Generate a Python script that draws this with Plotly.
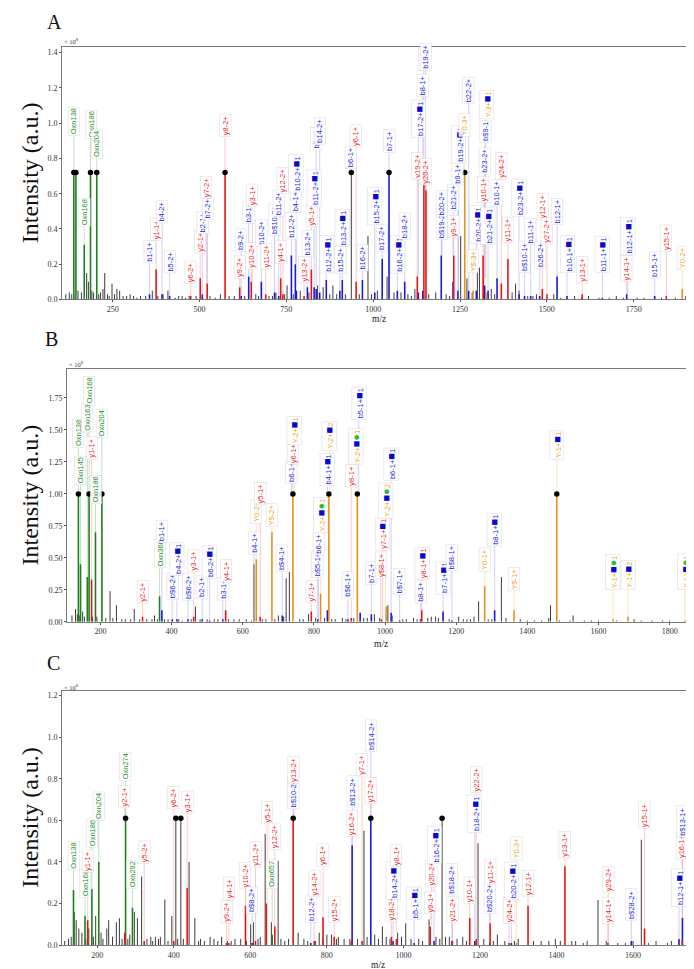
import plotly.graph_objects as go

# ======================= Panel A =======================
A_oxn_mz = [138.05, 144.07, 168.07, 186.08, 204.09]
A_oxn_int = [0.72, 0.72, 0.31, 0.72, 0.72]

A_b_mz = [356, 392, 414, 508, 620, 641.6, 678, 716, 728, 764.5,
          776, 779, 810.5, 830, 836, 846, 865, 904, 911, 969,
          1004.5, 1026, 1045.6, 1069.6, 1090.8, 1130, 1143, 1196, 1230, 1244,
          1275, 1297, 1321, 1330.8, 1356.7, 1420, 1436, 1453.6, 1479.5, 1529.5,
          1558, 1659.8, 1730, 1810.6]
A_b_int = [0.03, 0.03, 0.02, 0.03, 0.02, 0.13, 0.10, 0.04, 0.02, 0.25,
           0.20, 0.05, 0.07, 0.07, 0.06, 0.04, 0.11, 0.05, 0.11, 0.11,
           0.04, 0.23, 0.72, 0.05, 0.10, 0.04, 0.05, 0.25, 0.10, 0.05,
           0.05, 0.05, 0.08, 0.05, 0.12, 0.03, 0.02, 0.02, 0.02, 0.13,
           0.02, 0.01, 0.03, 0.02]

A_y_mz = [375, 474.6, 502, 522, 573.5, 615.7, 649, 690.5, 733.7, 740,
          801, 822, 951, 1127, 1146, 1152, 1232, 1316.5, 1369, 1388,
          1487, 1500.6, 1602, 1844]
A_y_int = [0.17, 0.02, 0.12, 0.09, 0.72, 0.07, 0.10, 0.03, 0.12, 0.03,
           0.02, 0.17, 0.10, 0.13, 0.72, 0.62, 0.25, 0.25, 0.09, 0.23,
           0.06, 0.03, 0.03, 0.02]

A_Y_mz = [1263.6, 1287.5, 1325, 1890]
A_Y_int = [0.72, 0.05, 0.04, 0.06]

A_k_mz = [150, 160, 175, 180, 222, 227, 248, 262, 270, 300,
          330, 364, 395, 409, 450, 470, 530, 560, 600, 662,
          700, 720, 752, 790, 840, 856, 875, 884, 920, 937,
          985, 1012, 1040, 1060, 1100, 1120, 1180, 1210, 1252, 1270,
          1300, 1306, 1318, 1340, 1410, 1420, 1470, 1520, 1580, 1620,
          1700, 1780, 1900]
A_k_int = [0.05, 0.04, 0.15, 0.10, 0.06, 0.15, 0.09, 0.06, 0.05, 0.03,
           0.02, 0.05, 0.03, 0.05, 0.02, 0.02, 0.02, 0.03, 0.02, 0.03,
           0.02, 0.04, 0.08, 0.05, 0.08, 0.07, 0.03, 0.08, 0.03, 0.72,
           0.36, 0.05, 0.13, 0.04, 0.03, 0.06, 0.04, 0.03, 0.36, 0.12,
           0.18, 0.18, 0.12, 0.06, 0.09, 0.05, 0.03, 0.03, 0.02, 0.02,
           0.02, 0.01, 0.02]
A_noise_mz = [115, 125, 132, 190, 195, 210, 215, 235, 240, 255,
              280, 290, 310, 320, 345, 380, 430, 440, 460, 490,
              545, 585, 630, 670, 710, 745, 770, 815, 895, 960,
              995, 1080, 1110, 1160, 1220, 1285, 1350, 1400, 1445, 1460,
              1540, 1600, 1650, 1680, 1720, 1760, 1830, 1870]
A_noise_int = [0.03, 0.04, 0.03, 0.05, 0.04, 0.03, 0.04, 0.03, 0.02, 0.03,
               0.02, 0.02, 0.02, 0.01, 0.02, 0.02, 0.01, 0.02, 0.01, 0.02,
               0.01, 0.02, 0.02, 0.02, 0.02, 0.03, 0.03, 0.04, 0.03, 0.03,
               0.03, 0.04, 0.02, 0.03, 0.02, 0.04, 0.03, 0.04, 0.02, 0.02,
               0.01, 0.01, 0.01, 0.01, 0.01, 0.01, 0.01, 0.01]

A_lab_txt = [
    'Oxn138', 'Oxn168', 'Oxn186', 'Oxn204', 'b1-1+', 'y1-1+', 'b4-2+', 'b5-2+', 'y6-2+', 'y2-1+',
    'b2-1+', 'b7-2+', 'y7-2+', 'y8-2+', 'y9-2+', 'b9-2+', 'b3-1+', 'y10-2+', 'y3-1+', 'b10-2+',
    'y11-2+', 'b$10-2+', 'b11-2+', 'y4-1+', 'y12-2+', 'b12-2+', 'b4-1+', 'b10-2+[S]1', 'y13-2+', 'b13-2+',
    'y5-1+', 'b11-2+[S]1', 'b5-1+', 'b14-2+', 'b12-2+[S]1', 'b15-2+', 'b13-2+[S]1', 'b6-1+', 'y6-1+', 'b16-2+',
    'b15-2+[S]1', 'b17-2+', 'b7-1+', 'b16-2+[S]1', 'b18-2+', 'y19-2+', 'b17-2+[S]1', 'b8-1+', 'y8-1+', 'b19-2+',
    'y20-2+', 'b$19-2+', 'b20-2+', 'b21-2+', 'y9-1+', 'b9-1+', 'b19-2+[S]1', 'Y0-3+', 'b22-2+', 'Y$-3+',
    'b20-2+[S]1', 'y10-1+', 'b23-2+', 'b$9-1', 'Y-3+[S]1', 'b21-2+[S]1', 'b10-1+', 'y24-2+', 'y11-1+', 'b23-2+[S]1',
    'b$10-1+', 'b11-1+', 'b26-2+', 'y12-1+', 'y27-2+', 'b12-1+', 'b10-1+[S]1', 'y13-1+', 'b11-1+[S]1', 'y14-1+',
    'b12-1+[S]1', 'b15-1+', 'y15-1+', 'Y0-2+']
A_lab_mz = [
    138.05, 168.07, 186.08, 204.09, 356, 375, 392, 414, 474.6, 502,
    508, 523, 520, 573.5, 615.7, 620, 641.6, 649, 652, 678,
    690.5, 716, 728, 733.7, 740, 764.5, 776, 779, 801, 810.5,
    822, 830, 836, 846, 865, 904, 911, 937, 951, 969,
    1004.5, 1026, 1045.6, 1069.6, 1090.8, 1127, 1130, 1143, 1146, 1151,
    1152, 1196, 1198, 1230, 1232, 1244, 1246, 1263.6, 1275, 1287.5,
    1297, 1316.5, 1321, 1322, 1325, 1330.8, 1356.7, 1369, 1388, 1420,
    1436, 1453.6, 1479.5, 1487, 1500.6, 1529.5, 1558, 1602, 1659.8, 1730,
    1733, 1810.6, 1844, 1890]
A_lab_at = [
    0.93, 0.41, 0.91, 0.80, 0.205, 0.33, 0.43, 0.15, 0.09, 0.26,
    0.37, 0.45, 0.57, 0.92, 0.12, 0.27, 0.43, 0.17, 0.525, 0.30,
    0.17, 0.36, 0.47, 0.205, 0.60, 0.34, 0.49, 0.61, 0.09, 0.24,
    0.41, 0.525, 0.845, 0.88, 0.15, 0.15, 0.30, 0.74, 0.86, 0.16,
    0.42, 0.27, 0.83, 0.15, 0.34, 0.68, 0.92, 1.15, 1.30, 1.30,
    0.65, 0.34, 0.47, 0.50, 0.35, 0.65, 0.77, 0.92, 1.11, 0.15,
    0.32, 0.545, 0.71, 0.89, 1.02, 0.31, 0.525, 0.68, 0.32, 0.47,
    0.15, 0.31, 0.177, 0.45, 0.31, 0.42, 0.15, 0.09, 0.15, 0.10,
    0.25, 0.12, 0.27, 0.17]
A_cap = 0.72
A_xticks = [250, 500, 750, 1000, 1250, 1500, 1750]
A_yticks = [0.0, 0.2, 0.4, 0.6, 0.8, 1.0, 1.2, 1.4]

# ======================= Panel B =======================
B_oxn_mz = [138.05, 144.07, 163.06, 168.07, 186.08, 204.09, 366.14]
B_oxn_int = [1.0, 0.45, 0.35, 1.0, 0.70, 1.0, 0.20]

B_b_mz = [372.7, 401.7, 415, 446, 486, 507, 544, 711, 811, 838,
          896, 930, 961.5, 1017, 1041, 1100, 1163, 1188, 1308]
B_b_int = [0.09, 0.02, 0.02, 0.02, 0.02, 0.01, 0.02, 0.05, 0.02, 0.09,
           0.02, 0.07, 0.06, 0.07, 0.01, 0.02, 0.08, 0.01, 0.09]

B_y_mz = [175.12, 318.4, 462, 552, 649, 792.7, 905, 990, 1103]
B_y_int = [0.33, 0.04, 0.04, 0.09, 0.04, 0.08, 0.03, 0.02, 0.09]

B_Y_mz = [638, 682, 741, 818.8, 842, 922, 1003, 1280, 1362.6, 1482.7, 1641, 1683, 1842.6]
B_Y_int = [0.49, 0.70, 1.0, 0.22, 1.0, 1.0, 0.12, 0.28, 0.09, 1.0, 0.02, 0.04, 0.01]

B_k_mz = [130, 150, 155, 227, 245, 260, 295, 352, 380, 420,
          467, 500, 520, 560, 610, 631.5, 655, 700, 715, 722,
          731, 770, 785, 805, 850, 880, 912, 950, 970, 1008,
          1020, 1060, 1080, 1120, 1130, 1142, 1207, 1230, 1250, 1263,
          1290, 1327, 1380, 1420, 1460, 1465, 1528.5, 1560, 1600, 1700,
          1750, 1800]
B_k_int = [0.10, 0.08, 0.04, 0.24, 0.13, 0.02, 0.10, 0.05, 0.02, 0.02,
           0.12, 0.02, 0.02, 0.02, 0.02, 0.45, 0.02, 0.05, 0.04, 0.34,
           0.39, 0.02, 0.06, 0.03, 0.02, 0.03, 0.03, 0.03, 0.06, 0.13,
           0.05, 0.02, 0.03, 0.03, 0.04, 0.04, 0.04, 0.02, 0.04, 0.16,
           0.02, 0.35, 0.02, 0.01, 0.03, 0.13, 0.05, 0.01, 0.01, 0.02,
           0.01, 0.01]
B_noise_mz = [120, 135, 142, 178, 190, 215, 235, 270, 285, 310,
              330, 345, 360, 390, 430, 455, 480, 530, 575, 590,
              625, 665, 690, 760, 830, 860, 890, 940, 985, 1050,
              1090, 1150, 1180, 1220, 1240, 1300, 1340, 1400, 1440, 1490,
              1520, 1580, 1650, 1720, 1780, 1850]
B_noise_int = [0.05, 0.06, 0.05, 0.04, 0.04, 0.03, 0.03, 0.02, 0.02, 0.02,
               0.02, 0.02, 0.02, 0.02, 0.01, 0.02, 0.02, 0.02, 0.02, 0.02,
               0.01, 0.02, 0.02, 0.02, 0.03, 0.02, 0.02, 0.03, 0.03, 0.02,
               0.02, 0.03, 0.02, 0.02, 0.02, 0.02, 0.03, 0.01, 0.01, 0.01,
               0.01, 0.01, 0.01, 0.01, 0.01, 0.01]

B_lab_txt = [
    'Oxn138', 'Oxn145', 'Oxn163', 'Oxn168', 'y1-1+', 'Oxn186', 'Oxn204', 'y2-1+', 'Oxn366', 'b1-1+',
    'b$6-2+', 'b4-2+[S]1', 'b$6-2+', 'y3-1+', 'b2-1+', 'b6-2+[S]1', 'b3-1+', 'y4-1+', 'b4-1+', 'Y0-2+',
    'y5-1+', 'Y$-2+', 'b$4-1+', 'b6-1+', 'y6-1+', 'Y-2+[S]1', 'y7-1+', 'b$5-1+', 'b6-1+', 'Y-2+[S][C]1',
    'b4-1+[S]1', 'Y-2+[S]2', 'b$6-1+', 'y8-1+', 'Y-2+[S][C]1', 'b5-1+[S]1', 'b7-1+', 'y$8-1+', 'y7-1+[S]1', 'Y-2+[S][C]2',
    'b6-1+[S]1', 'b$7-1+', 'b8-1+', 'y8-1+[S]1', 'b7-1+[S]1', 'b$8-1+', 'Y0-1+', 'b8-1+[S]1', 'Y$-1+', 'Y-1+[S]1',
    'Y-1+[S][C]1', 'Y-1+[S]2', 'Y-1+[S][C]1']
B_lab_mz = [
    138.05, 144.07, 163.06, 168.07, 175.12, 186.08, 204.09, 318.4, 366.14, 372.7,
    401.7, 415, 446, 462, 486, 507, 544, 552, 631.5, 638,
    649, 682, 711, 737, 741, 745, 792.7, 809, 813, 818.8,
    838, 844, 896, 905, 918, 926, 961.5, 988, 993, 1001,
    1017, 1041, 1100, 1103, 1163, 1188, 1280, 1308, 1362.6, 1482.7,
    1641, 1683, 1842.6]
B_lab_at = [
    1.36, 1.07, 1.48, 1.69, 1.27, 0.92, 1.44, 0.145, 0.42, 0.62,
    0.17, 0.365, 0.17, 0.39, 0.18, 0.34, 0.17, 0.31, 0.53, 0.77,
    0.91, 0.74, 0.39, 1.08, 1.23, 1.38, 0.145, 0.34, 0.52, 0.69,
    1.06, 1.34, 0.18, 1.05, 1.23, 1.58, 0.29, 0.34, 0.56, 0.81,
    1.10, 0.21, 0.145, 0.33, 0.21, 0.40, 0.39, 0.59, 0.24, 1.27,
    0.25, 0.25, 0.25]
B_cap = 1.0
B_xticks = [200, 400, 600, 800, 1000, 1200, 1400, 1600, 1800]
B_yticks = [0.0, 0.25, 0.5, 0.75, 1.0, 1.25, 1.5, 1.75]

# ======================= Panel C =======================
C_oxn_mz = [138.05, 168.07, 186.08, 204.09, 274.09, 292.10, 657.2]
C_oxn_int = [0.265, 0.14, 0.27, 0.40, 0.61, 0.18, 0.05]

C_y_mz = [175.12, 272, 322.7, 400, 435, 537.8, 544, 587.4, 613.5, 642,
          664, 712, 767, 790, 819, 864, 892, 968.7, 981.7, 1070,
          1128, 1173.3, 1190, 1226.5, 1276, 1325.6, 1422, 1534.5, 1630, 1728.6]
C_y_int = [0.12, 0.06, 0.02, 0.02, 0.275, 0.01, 0.01, 0.19, 0.02, 0.20,
           0.09, 0.61, 0.02, 0.134, 0.04, 0.02, 0.02, 0.04, 0.03, 0.09,
           0.02, 0.13, 0.03, 0.105, 0.01, 0.19, 0.38, 0.01, 0.08, 0.02]

C_b_mz = [605, 758, 866, 914.8, 973, 1028, 1080, 1127, 1186.5, 1225.6, 1282, 1595.5, 1720, 1729]
C_b_int = [0.01, 0.01, 0.48, 0.61, 0.02, 0.01, 0.02, 0.02, 0.02, 0.01, 0.01, 0.02, 0.03, 0.13]

C_Y_mz = [1295]
C_Y_int = [0.01]

C_k_mz = [140, 145, 152, 160, 178, 196, 210, 225, 230, 250,
          258, 265, 297, 305, 316, 340, 352, 365, 376.7, 395,
          405.4, 418.5, 440, 455, 470, 495, 505, 525, 560, 575,
          601, 608, 626, 638.8, 655, 672.7, 700, 725, 780, 800,
          812, 830, 845, 880, 897, 925, 945, 955, 985, 1006,
          1040, 1067, 1085, 1101, 1110, 1140, 1155, 1195, 1245.5, 1265,
          1300, 1380, 1397, 1450, 1480, 1508.4, 1560, 1600, 1621.6, 1640,
          1700]
C_k_int = [0.16, 0.12, 0.08, 0.06, 0.08, 0.14, 0.06, 0.08, 0.12, 0.11,
           0.13, 0.03, 0.16, 0.13, 0.33, 0.04, 0.04, 0.04, 0.22, 0.14,
           0.61, 0.61, 0.40, 0.13, 0.03, 0.04, 0.03, 0.04, 0.03, 0.03,
           0.10, 0.11, 0.04, 0.535, 0.11, 0.405, 0.03, 0.06, 0.06, 0.05,
           0.05, 0.04, 0.03, 0.03, 0.55, 0.05, 0.09, 0.04, 0.06, 0.105,
           0.03, 0.124, 0.04, 0.61, 0.04, 0.03, 0.04, 0.49, 0.05, 0.02,
           0.03, 0.02, 0.03, 0.02, 0.02, 0.217, 0.01, 0.02, 0.507, 0.01,
           0.02]
C_noise_mz = [115, 125, 132, 170, 185, 190, 215, 240, 280, 285,
              330, 345, 360, 385, 410, 425, 465, 480, 515, 540,
              550, 590, 620, 680, 690, 740, 750, 770, 790, 825,
              860, 905, 935, 965, 995, 1020, 1050, 1095, 1120, 1165,
              1210, 1235, 1290, 1340, 1360, 1410, 1440, 1470, 1530, 1580,
              1660, 1690, 1740]
C_noise_int = [0.02, 0.03, 0.04, 0.03, 0.05, 0.04, 0.03, 0.04, 0.03, 0.05,
               0.03, 0.02, 0.03, 0.02, 0.03, 0.03, 0.02, 0.02, 0.02, 0.02,
               0.02, 0.02, 0.03, 0.03, 0.02, 0.03, 0.02, 0.02, 0.03, 0.03,
               0.03, 0.04, 0.03, 0.03, 0.04, 0.03, 0.02, 0.03, 0.04, 0.02,
               0.03, 0.02, 0.02, 0.02, 0.02, 0.02, 0.02, 0.01, 0.02, 0.01,
               0.02, 0.01, 0.02]

C_lab_txt = [
    'Oxn138', 'Oxn168', 'y1-1+', 'Oxn186', 'Oxn204', 'y2-1+', 'Oxn274', 'Oxn292', 'y5-2+', 'y6-2+',
    'y3-1+', 'y9-2+', 'y4-1+', 'y10-2+', 'b$8-2+', 'y11-2+', 'y5-1+', 'Oxn657', 'y12-2+', 'b$10-2+',
    'y13-2+', 'b12-2+', 'y14-2+', 'y6-1+', 'y15-2+', 'y16-2+', 'b$13-2+', 'y7-1+', 'y17-2+', 'b$14-2+',
    'y18-2+', 'b14-2+[S]1', 'y8-1+', 'b5-1+[S]1', 'y9-1+', 'y20-2+', 'b16-2+[S]1', 'b$18-2+', 'y21-2+', 'y10-1+',
    'b18-2+[S]1', 'y22-2+', 'b$20-2+', 'y11-1+', 'y24-2+', 'b20-2+[S]1', 'Y0-3+', 'y12-1+', 'y13-1+', 'y14-1+',
    'y29-2+', 'b$28-2+', 'y15-1+', 'b12-1+[S]1', 'y16-1+', 'b$13-1+']
C_lab_mz = [
    138.05, 168.07, 175.12, 186.08, 204.09, 272, 274.09, 292.10, 322.7, 400,
    435, 537.8, 544, 587.4, 605, 613.5, 644, 657.2, 664, 712,
    714, 758, 767, 790, 819, 864, 867, 892, 915, 915,
    968.7, 973, 981.7, 1028, 1071, 1074, 1080, 1127, 1128, 1173.3,
    1186.5, 1190, 1225.6, 1226.5, 1276, 1282, 1295, 1325.6, 1422, 1534.5,
    1535, 1595.5, 1630, 1720, 1728.6, 1729]
C_lab_at = [
    0.36, 0.23, 0.35, 0.47, 0.60, 0.66, 0.79, 0.27, 0.39, 0.655,
    0.63, 0.105, 0.22, 0.27, 0.15, 0.376, 0.58, 0.27, 0.46, 0.655,
    0.78, 0.11, 0.23, 0.376, 0.105, 0.52, 0.66, 0.81, 0.68, 0.93,
    0.11, 0.22, 0.376, 0.12, 0.15, 0.28, 0.39, 0.24, 0.105, 0.20,
    0.54, 0.73, 0.15, 0.29, 0.10, 0.22, 0.41, 0.23, 0.42, 0.105,
    0.25, 0.12, 0.56, 0.185, 0.41, 0.52]
C_cap = 0.61
C_xticks = [200, 400, 600, 800, 1000, 1200, 1400, 1600]
C_yticks = [0.0, 0.2, 0.4, 0.6, 0.8, 1.0, 1.2]

# ======================= styling =======================
W, H = 694, 969
PEAK_COL = {'g': '#1f7f1f', 'b': '#1a1ad2', 'y': '#e51515', 'Y': '#e8901c', 'k': '#3c3c3c'}
TEXT_COL = {'g': '#1f8f1f', 'b': '#2323e6', 'y': '#f01e1e', 'Y': '#eea418'}
LINK_COL = {'g': 'rgba(40,150,40,0.35)', 'b': 'rgba(60,60,230,0.30)',
            'y': 'rgba(235,40,40,0.30)', 'Y': 'rgba(235,160,30,0.35)'}
SQ = '<span style="color:#0a0acc;font-size:11px">■</span>'
CI = '<span style="color:#33bb33;font-size:11px">●</span>'
LABEL_FONT = 'Liberation Sans, Arial, sans-serif'
SERIF = 'Liberation Serif, Times New Roman, serif'


def ion_of(txt):
    if txt.startswith('Oxn'):
        return 'g'
    return txt[0]


def px_x(p):
    return p / W


def px_y(p):
    return 1 - p / H


fig = go.Figure()
annotations = []


def add_panel(k, series, lab_mz, lab_txt, lab_at, cap, xr, yr, xdom, ydom, xticks, yticks, yfmt):
    assert len(lab_mz) == len(lab_txt) == len(lab_at)
    xa = 'x' if k == 1 else 'x%d' % k
    ya = 'y' if k == 1 else 'y%d' % k
    all_mz, all_int = [], []
    for ion, mz, it in series:
        assert len(mz) == len(it)
        all_mz += mz
        all_int += it
    # connector lines (peak top -> label)
    for ion in ['g', 'b', 'y', 'Y']:
        xs, ys = [], []
        for m, t, a in zip(lab_mz, lab_txt, lab_at):
            if ion_of(t) != ion:
                continue
            near = [h for pm, h in zip(all_mz, all_int) if abs(pm - m) <= 4]
            top = max(near) if near else 0.0
            if a > top:
                xs += [m, m, None]
                ys += [top, a, None]
        fig.add_trace(go.Scatter(x=xs, y=ys, mode='lines', xaxis=xa, yaxis=ya,
                                 line=dict(color=LINK_COL[ion], width=0.8),
                                 hoverinfo='skip', showlegend=False))
    # peaks
    for ion, mz, it in series:
        xs, ys = [], []
        for m, h in zip(mz, it):
            xs += [m, m, None]
            ys += [0, h, None]
        fig.add_trace(go.Scatter(x=xs, y=ys, mode='lines', xaxis=xa, yaxis=ya,
                                 line=dict(color=PEAK_COL[ion], width=1.0 if ion == 'k' else 1.6),
                                 hoverinfo='skip', showlegend=False))
    # capped peaks markers
    cx = [m for m, h in zip(all_mz, all_int) if h >= cap - 1e-9]
    fig.add_trace(go.Scatter(x=cx, y=[cap] * len(cx), mode='markers', xaxis=xa, yaxis=ya,
                             marker=dict(color='black', size=5.5),
                             hoverinfo='skip', showlegend=False))
    # labels
    for m, t, a in zip(lab_mz, lab_txt, lab_at):
        ion = ion_of(t)
        txt = t.replace('[S]', SQ).replace('[C]', CI)
        annotations.append(dict(
            x=m, y=a, xref=xa, yref=ya, text=txt, showarrow=False,
            textangle=-90, xanchor='center', yanchor='bottom',
            font=dict(family=LABEL_FONT, size=7.5, color=TEXT_COL[ion]),
            bgcolor='rgba(255,255,255,0.88)', bordercolor='rgba(200,200,215,0.6)',
            borderwidth=0.6, borderpad=1))
    axis_common = dict(showline=True, mirror=True, linecolor='#7a7a7a', linewidth=1,
                       showgrid=False, zeroline=False, ticks='outside', ticklen=2,
                       tickcolor='#555', tickfont=dict(family=SERIF, size=8, color='#333'))
    fig.layout['xaxis' if k == 1 else 'xaxis%d' % k] = dict(
        domain=xdom, range=xr, anchor=ya, tickvals=xticks,
        ticktext=[str(v) for v in xticks], **axis_common)
    fig.layout['yaxis' if k == 1 else 'yaxis%d' % k] = dict(
        domain=ydom, range=yr, anchor=xa, tickvals=yticks,
        ticktext=[format(v, yfmt) for v in yticks], **axis_common)


add_panel(1,
          [('k', A_k_mz + A_noise_mz, A_k_int + A_noise_int), ('g', A_oxn_mz, A_oxn_int),
           ('b', A_b_mz, A_b_int), ('y', A_y_mz, A_y_int), ('Y', A_Y_mz, A_Y_int)],
          A_lab_mz, A_lab_txt, A_lab_at, A_cap, [104, 1918], [0, 1.433],
          [px_x(54), px_x(684)], [px_y(293), px_y(39)], A_xticks, A_yticks, '.1f')
add_panel(2,
          [('k', B_k_mz + B_noise_mz, B_k_int + B_noise_int), ('g', B_oxn_mz, B_oxn_int),
           ('b', B_b_mz, B_b_int), ('y', B_y_mz, B_y_int), ('Y', B_Y_mz, B_Y_int)],
          B_lab_mz, B_lab_txt, B_lab_at, B_cap, [106, 1874], [0, 1.975],
          [px_x(59), px_x(688)], [px_y(617), px_y(363)], B_xticks, B_yticks, '.2f')
add_panel(3,
          [('k', C_k_mz + C_noise_mz, C_k_int + C_noise_int), ('g', C_oxn_mz, C_oxn_int),
           ('b', C_b_mz, C_b_int), ('y', C_y_mz, C_y_int), ('Y', C_Y_mz, C_Y_int)],
          C_lab_mz, C_lab_txt, C_lab_at, C_cap, [108, 1754], [0, 1.22],
          [px_x(54), px_x(684)], [px_y(942), px_y(687)], C_xticks, C_yticks, '.1f')


def paper_text(x, y, text, size, angle=0, color='#111'):
    annotations.append(dict(x=px_x(x), y=px_y(y), xref='paper', yref='paper', text=text,
                            showarrow=False, textangle=angle, xanchor='center', yanchor='middle',
                            font=dict(family=SERIF, size=size, color=color)))


for letter, (lx, ly) in zip(['A', 'B', 'C'], [(47, 14), (43, 333), (45, 658)]):
    paper_text(lx, ly, letter, 20)
for cy in [166, 490, 814]:
    paper_text(22, cy, 'Intensity (a.u.)', 24, angle=-90)
for mx, my in [(371, 313), (373, 639), (370, 962)]:
    paper_text(mx, my, 'm/z', 9.5, color='#222')
for ex, ey in [(63, 33), (68, 358), (63, 683)]:
    paper_text(ex, ey, '× 10<sup>8</sup>', 6.5, color='#333')

fig.update_layout(width=W, height=H, margin=dict(l=0, r=0, t=0, b=0),
                  paper_bgcolor='white', plot_bgcolor='white', showlegend=False,
                  annotations=annotations)

fig.write_html('out.html')
